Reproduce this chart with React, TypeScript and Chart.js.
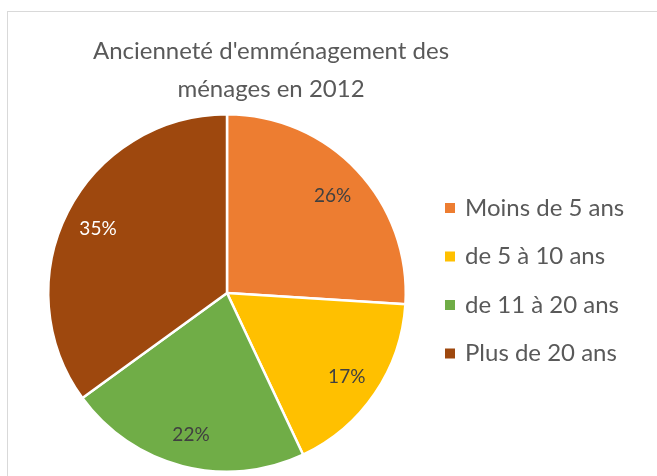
import React, { useEffect, useRef } from "react";
import { Chart, registerables } from "chart.js";

Chart.register(...registerables);

const titleLines = ["Ancienneté d'emménagement des", "ménages en 2012"];
const categories = ["Moins de 5 ans", "de 5 à 10 ans", "de 11 à 20 ans", "Plus de 20 ans"];
const values = [26, 17, 22, 35];
const colors = ["#ED7D31", "#FFC000", "#70AD47", "#9E480E"];
const labelColors = ["#404040", "#404040", "#404040", "#ffffff"];

const FONT = "Lato, 'Open Sans', sans-serif";

const decor = {
  id: "decor",
  beforeDraw(chart: any) {
    const ctx = chart.ctx;
    ctx.save();
    ctx.fillStyle = "#ffffff";
    ctx.fillRect(0, 0, chart.width, chart.height);
    ctx.strokeStyle = "#d9d9d9";
    ctx.lineWidth = 1;
    ctx.strokeRect(7.5, 11.5, 800, 600);
    ctx.restore();
  },
  afterDatasetsDraw(chart: any) {
    const ctx = chart.ctx;
    ctx.save();
    // title
    ctx.fillStyle = "#595959";
    ctx.font = `24px ${FONT}`;
    ctx.textAlign = "center";
    ctx.textBaseline = "alphabetic";
    ctx.fillText(titleLines[0], 271, 59);
    ctx.fillText(titleLines[1], 271, 97);
    // data labels
    const meta = chart.getDatasetMeta(0);
    const total = values.reduce((a, b) => a + b, 0);
    ctx.font = `19px ${FONT}`;
    ctx.textBaseline = "middle";
    meta.data.forEach((arc: any, i: number) => {
      const p = arc.getProps(["x", "y", "startAngle", "endAngle", "outerRadius"], true);
      const mid = (p.startAngle + p.endAngle) / 2;
      const r = p.outerRadius * 0.81;
      const pct = Math.round((values[i] / total) * 100) + "%";
      ctx.fillStyle = labelColors[i];
      ctx.fillText(pct, p.x + Math.cos(mid) * r, p.y + Math.sin(mid) * r + 2);
    });
    // legend
    ctx.font = `24px ${FONT}`;
    ctx.textAlign = "left";
    ctx.textBaseline = "middle";
    categories.forEach((c, i) => {
      const cy = 208 + i * 48.5;
      ctx.fillStyle = colors[i];
      ctx.fillRect(445, cy - 5, 10, 10);
      ctx.fillStyle = "#595959";
      ctx.fillText(c, 465, cy);
    });
    ctx.restore();
  },
};

export default function App() {
  const ref = useRef<HTMLCanvasElement>(null);
  useEffect(() => {
    if (!ref.current) return;
    const chart = new Chart(ref.current, {
      type: "pie",
      data: {
        labels: categories,
        datasets: [
          {
            data: values,
            backgroundColor: colors,
            borderColor: "#ffffff",
            borderWidth: 2.5,
          },
        ],
      },
      options: {
        responsive: false,
        animation: false,
        layout: { padding: { left: 47, right: 250, top: 113, bottom: 3 } },
        plugins: {
          legend: { display: false },
          title: { display: false },
          tooltip: { enabled: false },
        },
      },
      plugins: [decor],
    });
    return () => chart.destroy();
  }, []);
  return (
    <div style={{ position: "fixed", left: 0, top: 0, width: 657, height: 476, background: "#fff" }}>
      <canvas ref={ref} width={657} height={476} style={{ display: "block" }} />
    </div>
  );
}
